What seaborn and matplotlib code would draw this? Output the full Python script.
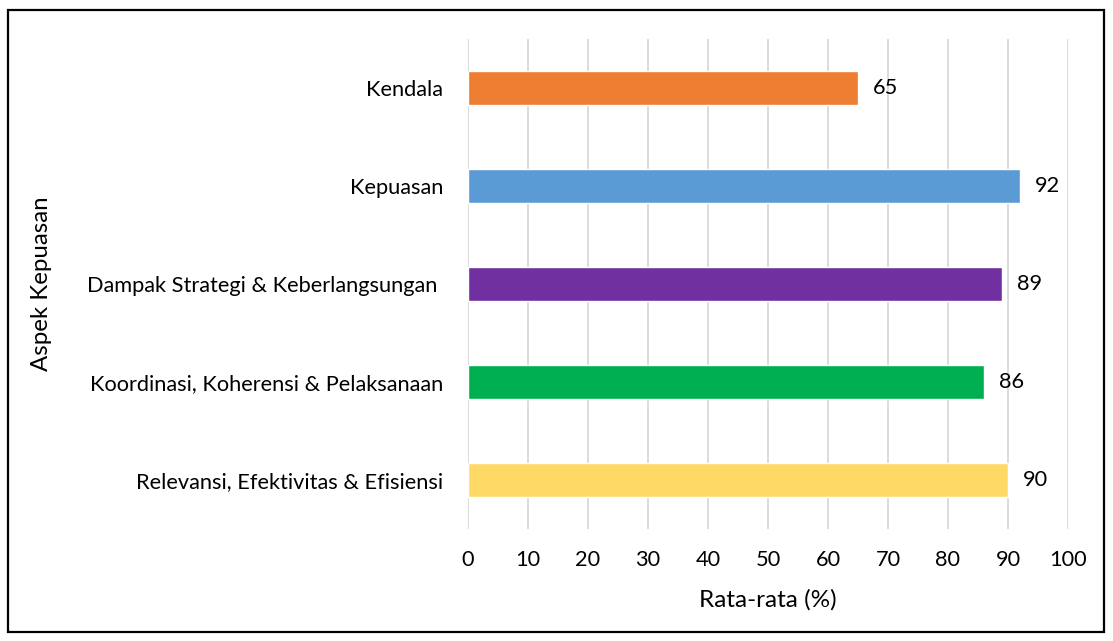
import matplotlib
matplotlib.use("Agg")
import matplotlib.pyplot as plt
import seaborn as sns
import pandas as pd
from matplotlib.patches import Rectangle

categories = ["Kendala", "Kepuasan", "Dampak Strategi & Keberlangsungan ",
              "Koordinasi, Koherensi & Pelaksanaan", "Relevansi, Efektivitas & Efisiensi"]
values = [65, 92, 89, 86, 90]
colors = ["#ED7D31", "#5B9BD5", "#7030A0", "#00B050", "#FFD966"]
xticks = [0, 10, 20, 30, 40, 50, 60, 70, 80, 90, 100]

sns.set_theme(style="white")
plt.rcParams['font.family'] = ['Lato', 'DejaVu Sans']

df = pd.DataFrame({"cat": categories, "val": values})

fig = plt.figure(figsize=(11.13, 6.41), dpi=100)
ax = fig.add_axes([468/1113, 1 - 529/641, 600/1113, 490/641])

sns.barplot(data=df, y="cat", x="val", hue="cat", palette=colors, legend=False,
            width=0.357, saturation=1, ax=ax, orient="h")

ax.set_xlim(0, 100)
ax.set_ylim(4.5, -0.5)
ax.set_xticks(xticks)
ax.set_xticklabels([str(t) for t in xticks])
ax.grid(axis="x", color="#D9D9D9", linewidth=1.3)
ax.set_axisbelow(True)
for s in ax.spines.values():
    s.set_visible(False)
ax.tick_params(axis="x", length=0, pad=15, labelsize=15.7, labelcolor="#000000")
ax.tick_params(axis="y", length=0, pad=18, labelsize=15.7, labelcolor="#000000")

for c in ax.containers:
    ax.bar_label(c, fmt="%d", padding=11, fontsize=15.7, color="#000000")

ax.set_xlabel("Rata-rata (%)", fontsize=17.5, color="#000000")
ax.xaxis.set_label_coords(0.5, (529 - 600) / 490)
ax.xaxis.label.set_verticalalignment("center")
ax.set_ylabel("Aspek Kepuasan", fontsize=17.3, color="#000000")
ax.yaxis.set_label_coords((42 - 468) / 600, 0.5)
ax.yaxis.label.set_verticalalignment("center")

fig.patches.append(Rectangle((8/1113, 1 - 632/641), (1104 - 8)/1113, (632 - 10)/641,
                             transform=fig.transFigure, fill=False,
                             edgecolor="black", linewidth=1.6))

fig.savefig("out.png", dpi=100)
